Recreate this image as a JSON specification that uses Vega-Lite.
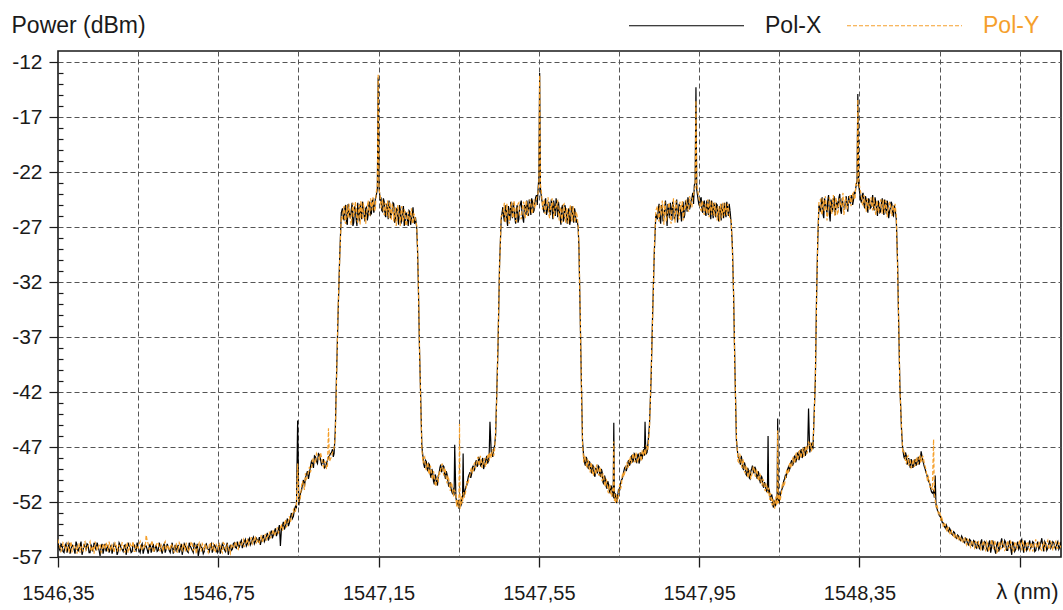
{
  "$schema": "https://vega.github.io/schema/vega-lite/v6.json",
  "width": 1003,
  "height": 506,
  "autosize": {"type": "none"},
  "padding": {"left": 58, "top": 51, "right": 2, "bottom": 53},
  "background": "white",
  "config": {
    "font": "Liberation Sans",
    "view": {"stroke": "#1a1a1a", "strokeWidth": 1.6}
  },
  "data": {
    "values": [
      {"nm":1546.350,"X":-55.7,"Y":-55.4},{"nm":1546.355,"X":-56.4,"Y":-56.1},{"nm":1546.360,"X":-55.9,"Y":-56.3},{"nm":1546.365,"X":-56.6,"Y":-55.8},
      {"nm":1546.370,"X":-55.8,"Y":-56.4},{"nm":1546.375,"X":-56.2,"Y":-55.7},{"nm":1546.380,"X":-56.7,"Y":-56.0},{"nm":1546.385,"X":-55.9,"Y":-56.5},
      {"nm":1546.390,"X":-56.3,"Y":-55.9},{"nm":1546.395,"X":-55.6,"Y":-56.2},{"nm":1546.400,"X":-56.5,"Y":-55.8},{"nm":1546.405,"X":-56.0,"Y":-56.6},
      {"nm":1546.410,"X":-56.8,"Y":-56.1},{"nm":1546.415,"X":-55.8,"Y":-55.7},{"nm":1546.420,"X":-56.3,"Y":-56.4},{"nm":1546.425,"X":-55.9,"Y":-56.0},
      {"nm":1546.430,"X":-56.6,"Y":-55.6},{"nm":1546.435,"X":-56.1,"Y":-56.3},{"nm":1546.440,"X":-55.7,"Y":-56.7},{"nm":1546.445,"X":-56.4,"Y":-55.9},
      {"nm":1546.450,"X":-56.0,"Y":-56.2},{"nm":1546.455,"X":-56.9,"Y":-55.8},{"nm":1546.460,"X":-55.8,"Y":-56.4},{"nm":1546.465,"X":-56.2,"Y":-56.0},
      {"nm":1546.470,"X":-56.5,"Y":-55.7},{"nm":1546.475,"X":-55.9,"Y":-56.5},{"nm":1546.480,"X":-56.3,"Y":-56.1},{"nm":1546.485,"X":-56.7,"Y":-55.9},
      {"nm":1546.490,"X":-55.8,"Y":-56.6},{"nm":1546.495,"X":-56.1,"Y":-55.8},{"nm":1546.500,"X":-56.5,"Y":-56.2},{"nm":1546.505,"X":-55.9,"Y":-56.4},
      {"nm":1546.510,"X":-56.3,"Y":-55.7},{"nm":1546.515,"X":-56.0,"Y":-56.3},{"nm":1546.520,"X":-56.8,"Y":-56.0},{"nm":1546.525,"X":-55.7,"Y":-56.6},
      {"nm":1546.530,"X":-56.2,"Y":-55.8},{"nm":1546.535,"X":-56.5,"Y":-56.1},{"nm":1546.540,"X":-55.9,"Y":-56.5},{"nm":1546.545,"X":-56.4,"Y":-55.9},
      {"nm":1546.550,"X":-56.1,"Y":-56.2},{"nm":1546.555,"X":-56.6,"Y":-55.6},{"nm":1546.560,"X":-55.8,"Y":-56.3},{"nm":1546.565,"X":-56.3,"Y":-56.0},
      {"nm":1546.570,"X":-56.0,"Y":-55.0},{"nm":1546.575,"X":-56.7,"Y":-55.8},{"nm":1546.580,"X":-55.8,"Y":-56.2},{"nm":1546.585,"X":-56.2,"Y":-55.5},
      {"nm":1546.590,"X":-56.5,"Y":-56.4},{"nm":1546.595,"X":-55.9,"Y":-56.0},{"nm":1546.600,"X":-56.4,"Y":-55.7},{"nm":1546.605,"X":-56.0,"Y":-56.5},
      {"nm":1546.610,"X":-56.7,"Y":-56.1},{"nm":1546.615,"X":-55.8,"Y":-55.8},{"nm":1546.620,"X":-56.3,"Y":-56.4},{"nm":1546.625,"X":-56.1,"Y":-55.9},
      {"nm":1546.630,"X":-56.6,"Y":-56.2},{"nm":1546.635,"X":-55.7,"Y":-56.0},{"nm":1546.640,"X":-56.2,"Y":-56.6},{"nm":1546.645,"X":-56.5,"Y":-55.8},
      {"nm":1546.650,"X":-55.9,"Y":-56.3},{"nm":1546.655,"X":-56.3,"Y":-55.9},{"nm":1546.660,"X":-56.8,"Y":-56.4},{"nm":1546.665,"X":-55.8,"Y":-56.0},
      {"nm":1546.670,"X":-56.2,"Y":-55.7},{"nm":1546.675,"X":-56.6,"Y":-56.5},{"nm":1546.680,"X":-56.0,"Y":-56.1},{"nm":1546.685,"X":-56.4,"Y":-55.8},
      {"nm":1546.690,"X":-55.7,"Y":-56.3},{"nm":1546.695,"X":-56.3,"Y":-56.7},{"nm":1546.700,"X":-56.9,"Y":-55.9},{"nm":1546.705,"X":-55.9,"Y":-56.2},
      {"nm":1546.710,"X":-56.2,"Y":-55.8},{"nm":1546.715,"X":-56.5,"Y":-56.4},{"nm":1546.720,"X":-55.8,"Y":-56.0},{"nm":1546.725,"X":-56.3,"Y":-56.6},
      {"nm":1546.730,"X":-56.0,"Y":-55.7},{"nm":1546.735,"X":-56.6,"Y":-56.2},{"nm":1546.740,"X":-55.9,"Y":-56.5},{"nm":1546.745,"X":-56.4,"Y":-55.9},
      {"nm":1546.750,"X":-56.1,"Y":-56.3},{"nm":1546.755,"X":-56.7,"Y":-56.0},{"nm":1546.760,"X":-55.8,"Y":-56.6},{"nm":1546.765,"X":-56.3,"Y":-55.8},
      {"nm":1546.770,"X":-56.0,"Y":-56.4},{"nm":1546.775,"X":-56.8,"Y":-56.1},{"nm":1546.780,"X":-55.9,"Y":-56.7},{"nm":1546.785,"X":-56.3,"Y":-56.0},
      {"nm":1546.790,"X":-55.7,"Y":-56.2},{"nm":1546.795,"X":-56.2,"Y":-55.8},{"nm":1546.800,"X":-56.0,"Y":-56.3},{"nm":1546.805,"X":-55.7,"Y":-55.9},
      {"nm":1546.810,"X":-56.2,"Y":-55.6},{"nm":1546.815,"X":-55.6,"Y":-56.1},{"nm":1546.820,"X":-56.0,"Y":-55.7},{"nm":1546.825,"X":-55.5,"Y":-55.9},
      {"nm":1546.830,"X":-55.9,"Y":-55.5},{"nm":1546.835,"X":-55.4,"Y":-55.8},{"nm":1546.840,"X":-55.8,"Y":-55.3},{"nm":1546.845,"X":-55.3,"Y":-55.7},
      {"nm":1546.850,"X":-55.6,"Y":-55.4},{"nm":1546.855,"X":-55.9,"Y":-55.4},{"nm":1546.860,"X":-55.3,"Y":-55.7},{"nm":1546.865,"X":-55.6,"Y":-55.2},
      {"nm":1546.870,"X":-55.1,"Y":-55.5},{"nm":1546.875,"X":-55.5,"Y":-55.0},{"nm":1546.880,"X":-54.9,"Y":-55.3},{"nm":1546.885,"X":-55.3,"Y":-54.8},
      {"nm":1546.890,"X":-54.7,"Y":-55.1},{"nm":1546.895,"X":-55.1,"Y":-54.6},{"nm":1546.900,"X":-54.5,"Y":-54.8},{"nm":1546.905,"X":-56.0,"Y":-54.4},
      {"nm":1546.910,"X":-54.2,"Y":-54.6},{"nm":1546.915,"X":-54.5,"Y":-54.0},{"nm":1546.920,"X":-53.9,"Y":-54.3},{"nm":1546.925,"X":-54.2,"Y":-53.7},
      {"nm":1546.930,"X":-53.4,"Y":-53.8},{"nm":1546.935,"X":-53.5,"Y":-53.1},{"nm":1546.940,"X":-52.7,"Y":-53.0},{"nm":1546.945,"X":-52.6,"Y":-52.2},
      {"nm":1546.948,"X":-44.6,"Y":-48.5},{"nm":1546.951,"X":-52.3,"Y":-52.0},{"nm":1546.955,"X":-51.2,"Y":-51.6},{"nm":1546.960,"X":-50.4,"Y":-50.1},
      {"nm":1546.965,"X":-50.6,"Y":-50.9},{"nm":1546.970,"X":-49.5,"Y":-49.9},{"nm":1546.975,"X":-49.9,"Y":-49.2},{"nm":1546.980,"X":-48.8,"Y":-49.3},
      {"nm":1546.985,"X":-48.5,"Y":-48.2},{"nm":1546.990,"X":-47.8,"Y":-48.4},{"nm":1546.995,"X":-48.3,"Y":-47.6},{"nm":1547.000,"X":-47.6,"Y":-47.9},
      {"nm":1547.005,"X":-48.1,"Y":-47.5},{"nm":1547.010,"X":-48.4,"Y":-48.6},{"nm":1547.015,"X":-48.9,"Y":-48.3},{"nm":1547.020,"X":-48.5,"Y":-49.0},
      {"nm":1547.025,"X":-47.9,"Y":-45.3},{"nm":1547.030,"X":-47.6,"Y":-48.1},{"nm":1547.035,"X":-47.2,"Y":-47.5},{"nm":1547.039,"X":-47.6,"Y":-47.1},
      {"nm":1547.042,"X":-45.5,"Y":-46.0},{"nm":1547.045,"X":-40.6,"Y":-41.0},{"nm":1547.049,"X":-34.8,"Y":-34.5},{"nm":1547.053,"X":-29.7,"Y":-29.9},
      {"nm":1547.057,"X":-25.7,"Y":-26.0},
      {"nm":1547.060,"X":-25.3,"Y":-26.2},{"nm":1547.064,"X":-26.4,"Y":-25.1},{"nm":1547.068,"X":-25.0,"Y":-26.7},{"nm":1547.072,"X":-26.8,"Y":-25.6},
      {"nm":1547.076,"X":-25.5,"Y":-24.9},{"nm":1547.080,"X":-26.2,"Y":-26.5},{"nm":1547.084,"X":-24.8,"Y":-25.4},{"nm":1547.088,"X":-26.6,"Y":-26.0},
      {"nm":1547.092,"X":-25.4,"Y":-24.7},{"nm":1547.096,"X":-26.9,"Y":-26.3},{"nm":1547.100,"X":-25.7,"Y":-25.2},{"nm":1547.104,"X":-24.9,"Y":-26.8},
      {"nm":1547.108,"X":-26.3,"Y":-25.5},{"nm":1547.112,"X":-25.1,"Y":-24.8},{"nm":1547.116,"X":-26.5,"Y":-26.1},{"nm":1547.120,"X":-25.2,"Y":-25.7},
      {"nm":1547.124,"X":-25.9,"Y":-24.6},{"nm":1547.128,"X":-24.7,"Y":-25.9},{"nm":1547.132,"X":-25.8,"Y":-25.0},{"nm":1547.136,"X":-24.5,"Y":-24.3},
      {"nm":1547.140,"X":-25.3,"Y":-25.6},{"nm":1547.144,"X":-24.2,"Y":-23.9},{"nm":1547.147,"X":-23.5,"Y":-23.2},{"nm":1547.149,"X":-13.4,"Y":-13.1},
      {"nm":1547.151,"X":-23.3,"Y":-23.6},{"nm":1547.154,"X":-24.6,"Y":-24.1},{"nm":1547.158,"X":-25.5,"Y":-24.9},{"nm":1547.162,"X":-24.4,"Y":-25.6},
      {"nm":1547.166,"X":-25.9,"Y":-24.8},{"nm":1547.170,"X":-24.9,"Y":-26.0},{"nm":1547.174,"X":-26.3,"Y":-25.2},{"nm":1547.178,"X":-25.1,"Y":-24.7},
      {"nm":1547.182,"X":-25.8,"Y":-26.4},{"nm":1547.186,"X":-24.8,"Y":-25.3},{"nm":1547.190,"X":-26.6,"Y":-25.8},{"nm":1547.194,"X":-25.4,"Y":-26.9},
      {"nm":1547.198,"X":-26.1,"Y":-25.0},{"nm":1547.202,"X":-25.0,"Y":-26.2},{"nm":1547.206,"X":-26.7,"Y":-25.6},{"nm":1547.210,"X":-25.6,"Y":-26.5},
      {"nm":1547.214,"X":-26.9,"Y":-25.4},{"nm":1547.218,"X":-25.7,"Y":-26.8},{"nm":1547.222,"X":-26.4,"Y":-25.9},{"nm":1547.226,"X":-25.5,"Y":-26.3},
      {"nm":1547.230,"X":-26.8,"Y":-25.7},{"nm":1547.234,"X":-25.9,"Y":-26.6},{"nm":1547.238,"X":-26.5,"Y":-25.8},{"nm":1547.242,"X":-26.1,"Y":-26.4},
      {"nm":1547.245,"X":-27.0,"Y":-26.8},{"nm":1547.247,"X":-28.8,"Y":-28.5},{"nm":1547.249,"X":-31.8,"Y":-31.5},{"nm":1547.252,"X":-37.9,"Y":-37.6},
      {"nm":1547.255,"X":-42.4,"Y":-42.7},{"nm":1547.258,"X":-46.9,"Y":-47.2},
      {"nm":1547.261,"X":-48.0,"Y":-48.5},{"nm":1547.265,"X":-48.9,"Y":-47.9},{"nm":1547.269,"X":-48.3,"Y":-49.1},{"nm":1547.273,"X":-49.2,"Y":-48.4},
      {"nm":1547.277,"X":-48.6,"Y":-49.5},{"nm":1547.281,"X":-49.8,"Y":-48.9},{"nm":1547.285,"X":-49.3,"Y":-50.0},{"nm":1547.289,"X":-50.4,"Y":-49.5},
      {"nm":1547.293,"X":-49.7,"Y":-50.6},{"nm":1547.297,"X":-50.5,"Y":-49.8},{"nm":1547.301,"X":-49.4,"Y":-49.2},{"nm":1547.305,"X":-48.6,"Y":-49.0},
      {"nm":1547.309,"X":-49.1,"Y":-48.5},{"nm":1547.313,"X":-48.8,"Y":-49.6},{"nm":1547.317,"X":-49.9,"Y":-49.2},{"nm":1547.321,"X":-49.5,"Y":-50.3},
      {"nm":1547.325,"X":-50.6,"Y":-49.9},{"nm":1547.329,"X":-50.2,"Y":-51.0},{"nm":1547.333,"X":-51.1,"Y":-50.4},{"nm":1547.337,"X":-50.7,"Y":-51.5},
      {"nm":1547.340,"X":-46.8,"Y":-51.0},{"nm":1547.343,"X":-51.6,"Y":-51.2},{"nm":1547.346,"X":-52.3,"Y":-51.8},{"nm":1547.349,"X":-51.8,"Y":-52.5},
      {"nm":1547.352,"X":-52.0,"Y":-44.9},{"nm":1547.355,"X":-52.4,"Y":-51.7},{"nm":1547.358,"X":-51.5,"Y":-52.2},{"nm":1547.361,"X":-47.6,"Y":-51.3},
      {"nm":1547.364,"X":-51.2,"Y":-51.6},{"nm":1547.368,"X":-50.6,"Y":-50.9},{"nm":1547.372,"X":-50.1,"Y":-50.4},{"nm":1547.376,"X":-49.5,"Y":-49.8},
      {"nm":1547.380,"X":-49.8,"Y":-49.1},{"nm":1547.384,"X":-48.9,"Y":-49.4},{"nm":1547.388,"X":-49.2,"Y":-48.6},{"nm":1547.392,"X":-48.4,"Y":-48.9},
      {"nm":1547.396,"X":-48.8,"Y":-48.1},{"nm":1547.400,"X":-47.9,"Y":-48.5},{"nm":1547.404,"X":-48.6,"Y":-47.8},{"nm":1547.408,"X":-48.2,"Y":-48.9},
      {"nm":1547.412,"X":-49.0,"Y":-48.3},{"nm":1547.416,"X":-48.4,"Y":-48.7},{"nm":1547.420,"X":-47.8,"Y":-48.2},{"nm":1547.424,"X":-48.3,"Y":-47.6},
      {"nm":1547.428,"X":-44.7,"Y":-47.5},{"nm":1547.431,"X":-47.4,"Y":-48.0},{"nm":1547.435,"X":-47.9,"Y":-47.2},{"nm":1547.439,"X":-47.0,"Y":-47.5},
      {"nm":1547.442,"X":-46.0,"Y":-45.6},{"nm":1547.445,"X":-42.0,"Y":-42.5},{"nm":1547.448,"X":-37.9,"Y":-37.5},{"nm":1547.452,"X":-30.3,"Y":-30.6},
      {"nm":1547.456,"X":-26.3,"Y":-26.0},
      {"nm":1547.460,"X":-25.2,"Y":-25.9},{"nm":1547.464,"X":-26.5,"Y":-24.8},{"nm":1547.468,"X":-25.0,"Y":-26.3},{"nm":1547.472,"X":-26.9,"Y":-25.4},
      {"nm":1547.476,"X":-25.6,"Y":-26.7},{"nm":1547.480,"X":-24.7,"Y":-25.1},{"nm":1547.484,"X":-26.2,"Y":-26.0},{"nm":1547.488,"X":-25.3,"Y":-24.6},
      {"nm":1547.492,"X":-26.7,"Y":-26.4},{"nm":1547.496,"X":-25.0,"Y":-25.3},{"nm":1547.500,"X":-26.3,"Y":-24.8},{"nm":1547.504,"X":-24.9,"Y":-26.1},
      {"nm":1547.508,"X":-25.8,"Y":-25.5},{"nm":1547.512,"X":-26.6,"Y":-24.7},{"nm":1547.516,"X":-25.2,"Y":-26.2},{"nm":1547.520,"X":-24.6,"Y":-25.0},
      {"nm":1547.524,"X":-26.0,"Y":-25.7},{"nm":1547.528,"X":-25.1,"Y":-24.5},{"nm":1547.532,"X":-24.4,"Y":-25.6},{"nm":1547.536,"X":-25.7,"Y":-24.9},
      {"nm":1547.540,"X":-24.8,"Y":-25.3},{"nm":1547.544,"X":-24.1,"Y":-24.4},{"nm":1547.548,"X":-23.6,"Y":-23.9},{"nm":1547.550,"X":-22.5,"Y":-23.0},
      {"nm":1547.552,"X":-13.0,"Y":-13.2},{"nm":1547.554,"X":-23.5,"Y":-23.2},{"nm":1547.557,"X":-24.5,"Y":-24.0},{"nm":1547.561,"X":-25.4,"Y":-24.7},
      {"nm":1547.565,"X":-24.6,"Y":-25.8},{"nm":1547.569,"X":-25.9,"Y":-25.1},{"nm":1547.573,"X":-24.9,"Y":-24.3},{"nm":1547.577,"X":-25.6,"Y":-26.2},
      {"nm":1547.581,"X":-24.5,"Y":-25.4},{"nm":1547.585,"X":-26.3,"Y":-24.8},{"nm":1547.589,"X":-25.2,"Y":-26.0},{"nm":1547.593,"X":-24.4,"Y":-25.3},
      {"nm":1547.597,"X":-26.1,"Y":-24.6},{"nm":1547.601,"X":-25.5,"Y":-26.4},{"nm":1547.605,"X":-26.8,"Y":-25.2},{"nm":1547.609,"X":-25.0,"Y":-25.9},
      {"nm":1547.613,"X":-26.2,"Y":-24.9},{"nm":1547.617,"X":-25.4,"Y":-26.6},{"nm":1547.621,"X":-26.7,"Y":-25.5},{"nm":1547.625,"X":-25.3,"Y":-26.1},
      {"nm":1547.629,"X":-26.4,"Y":-25.0},{"nm":1547.633,"X":-25.1,"Y":-26.5},{"nm":1547.637,"X":-26.6,"Y":-25.6},{"nm":1547.641,"X":-25.7,"Y":-26.2},
      {"nm":1547.645,"X":-26.3,"Y":-25.9},
      {"nm":1547.648,"X":-27.0,"Y":-26.8},{"nm":1547.650,"X":-28.8,"Y":-28.6},{"nm":1547.653,"X":-34.8,"Y":-34.5},{"nm":1547.656,"X":-40.9,"Y":-41.2},
      {"nm":1547.659,"X":-46.5,"Y":-46.8},
      {"nm":1547.662,"X":-47.9,"Y":-48.4},{"nm":1547.666,"X":-48.7,"Y":-47.8},{"nm":1547.670,"X":-48.1,"Y":-48.9},{"nm":1547.674,"X":-49.0,"Y":-48.3},
      {"nm":1547.678,"X":-48.5,"Y":-49.3},{"nm":1547.682,"X":-49.4,"Y":-48.7},{"nm":1547.686,"X":-48.8,"Y":-49.6},{"nm":1547.690,"X":-49.7,"Y":-49.0},
      {"nm":1547.694,"X":-49.1,"Y":-48.6},{"nm":1547.698,"X":-48.7,"Y":-49.4},{"nm":1547.702,"X":-49.5,"Y":-48.8},{"nm":1547.706,"X":-49.0,"Y":-49.8},
      {"nm":1547.710,"X":-50.2,"Y":-49.4},{"nm":1547.714,"X":-49.6,"Y":-50.4},{"nm":1547.718,"X":-50.6,"Y":-49.9},{"nm":1547.722,"X":-50.1,"Y":-51.0},
      {"nm":1547.726,"X":-51.0,"Y":-50.4},{"nm":1547.730,"X":-50.5,"Y":-51.3},{"nm":1547.734,"X":-51.4,"Y":-50.8},{"nm":1547.737,"X":-44.8,"Y":-46.5},
      {"nm":1547.740,"X":-51.2,"Y":-51.6},{"nm":1547.743,"X":-51.9,"Y":-51.3},{"nm":1547.746,"X":-51.5,"Y":-52.0},{"nm":1547.749,"X":-50.8,"Y":-51.2},
      {"nm":1547.752,"X":-50.9,"Y":-50.4},{"nm":1547.756,"X":-50.0,"Y":-50.5},{"nm":1547.760,"X":-49.6,"Y":-49.3},{"nm":1547.764,"X":-48.9,"Y":-49.4},
      {"nm":1547.768,"X":-49.2,"Y":-48.6},{"nm":1547.772,"X":-48.4,"Y":-48.9},{"nm":1547.776,"X":-48.7,"Y":-48.1},{"nm":1547.780,"X":-47.9,"Y":-48.5},
      {"nm":1547.784,"X":-48.4,"Y":-47.7},{"nm":1547.788,"X":-47.6,"Y":-48.2},{"nm":1547.792,"X":-48.3,"Y":-47.5},{"nm":1547.796,"X":-47.8,"Y":-48.4},
      {"nm":1547.800,"X":-48.5,"Y":-47.9},{"nm":1547.804,"X":-47.5,"Y":-48.0},{"nm":1547.808,"X":-48.1,"Y":-47.3},{"nm":1547.812,"X":-47.2,"Y":-47.8},
      {"nm":1547.815,"X":-44.7,"Y":-47.4},{"nm":1547.818,"X":-47.6,"Y":-46.9},{"nm":1547.822,"X":-46.8,"Y":-47.3},
      {"nm":1547.826,"X":-45.0,"Y":-45.4},{"nm":1547.830,"X":-40.9,"Y":-40.6},{"nm":1547.834,"X":-34.8,"Y":-35.1},{"nm":1547.838,"X":-29.4,"Y":-29.1},
      {"nm":1547.842,"X":-25.8,"Y":-25.5},
      {"nm":1547.846,"X":-26.3,"Y":-25.1},{"nm":1547.850,"X":-24.9,"Y":-26.5},{"nm":1547.854,"X":-26.7,"Y":-25.4},{"nm":1547.858,"X":-25.3,"Y":-24.6},
      {"nm":1547.862,"X":-26.1,"Y":-26.8},{"nm":1547.866,"X":-24.6,"Y":-25.2},{"nm":1547.870,"X":-26.9,"Y":-26.0},{"nm":1547.874,"X":-25.5,"Y":-24.8},
      {"nm":1547.878,"X":-24.8,"Y":-26.3},{"nm":1547.882,"X":-26.4,"Y":-25.5},{"nm":1547.886,"X":-25.1,"Y":-24.4},{"nm":1547.890,"X":-26.0,"Y":-26.6},
      {"nm":1547.894,"X":-24.5,"Y":-25.0},{"nm":1547.898,"X":-25.8,"Y":-26.1},{"nm":1547.902,"X":-25.2,"Y":-24.7},{"nm":1547.906,"X":-26.5,"Y":-25.6},
      {"nm":1547.910,"X":-24.7,"Y":-26.4},{"nm":1547.914,"X":-25.9,"Y":-25.1},{"nm":1547.918,"X":-25.0,"Y":-24.5},{"nm":1547.922,"X":-24.3,"Y":-25.4},
      {"nm":1547.926,"X":-25.4,"Y":-24.2},{"nm":1547.930,"X":-24.6,"Y":-25.0},{"nm":1547.934,"X":-23.9,"Y":-24.3},{"nm":1547.938,"X":-23.2,"Y":-23.6},
      {"nm":1547.940,"X":-23.0,"Y":-23.4},{"nm":1547.942,"X":-14.3,"Y":-15.5},{"nm":1547.944,"X":-23.6,"Y":-23.1},{"nm":1547.947,"X":-24.4,"Y":-23.8},
      {"nm":1547.951,"X":-25.1,"Y":-24.6},{"nm":1547.955,"X":-24.3,"Y":-25.5},{"nm":1547.959,"X":-25.7,"Y":-24.8},{"nm":1547.963,"X":-24.6,"Y":-25.9},
      {"nm":1547.967,"X":-26.0,"Y":-25.2},{"nm":1547.971,"X":-25.2,"Y":-24.5},{"nm":1547.975,"X":-24.5,"Y":-26.1},{"nm":1547.979,"X":-26.3,"Y":-25.3},
      {"nm":1547.983,"X":-25.4,"Y":-24.7},{"nm":1547.987,"X":-24.8,"Y":-26.0},{"nm":1547.991,"X":-26.1,"Y":-25.0},{"nm":1547.995,"X":-25.0,"Y":-26.4},
      {"nm":1547.999,"X":-26.5,"Y":-25.4},{"nm":1548.003,"X":-25.3,"Y":-24.9},{"nm":1548.007,"X":-24.9,"Y":-26.2},{"nm":1548.011,"X":-26.2,"Y":-25.6},
      {"nm":1548.015,"X":-25.6,"Y":-24.8},{"nm":1548.019,"X":-24.7,"Y":-25.9},{"nm":1548.023,"X":-26.0,"Y":-25.3},{"nm":1548.027,"X":-25.5,"Y":-26.3},
      {"nm":1548.030,"X":-26.7,"Y":-26.4},{"nm":1548.033,"X":-28.8,"Y":-29.2},{"nm":1548.036,"X":-33.3,"Y":-33.0},{"nm":1548.039,"X":-39.4,"Y":-39.8},
      {"nm":1548.043,"X":-46.4,"Y":-46.0},{"nm":1548.047,"X":-47.9,"Y":-48.3},
      {"nm":1548.051,"X":-48.2,"Y":-47.6},{"nm":1548.055,"X":-47.8,"Y":-48.5},{"nm":1548.059,"X":-48.9,"Y":-48.1},{"nm":1548.063,"X":-48.4,"Y":-49.2},
      {"nm":1548.067,"X":-49.5,"Y":-48.7},{"nm":1548.071,"X":-48.9,"Y":-49.6},{"nm":1548.075,"X":-49.8,"Y":-49.1},{"nm":1548.079,"X":-49.2,"Y":-49.9},
      {"nm":1548.083,"X":-48.7,"Y":-49.3},{"nm":1548.087,"X":-49.4,"Y":-48.8},{"nm":1548.091,"X":-49.0,"Y":-49.7},{"nm":1548.095,"X":-49.9,"Y":-49.3},
      {"nm":1548.099,"X":-49.4,"Y":-50.1},{"nm":1548.103,"X":-50.3,"Y":-49.6},{"nm":1548.107,"X":-49.8,"Y":-50.5},{"nm":1548.111,"X":-50.7,"Y":-50.1},
      {"nm":1548.115,"X":-50.4,"Y":-51.0},{"nm":1548.119,"X":-51.1,"Y":-50.6},{"nm":1548.122,"X":-46.0,"Y":-50.9},{"nm":1548.125,"X":-50.8,"Y":-51.5},
      {"nm":1548.128,"X":-51.7,"Y":-51.2},{"nm":1548.131,"X":-51.3,"Y":-52.0},{"nm":1548.134,"X":-52.3,"Y":-51.7},{"nm":1548.137,"X":-51.9,"Y":-52.4},
      {"nm":1548.140,"X":-52.4,"Y":-51.8},{"nm":1548.143,"X":-51.6,"Y":-52.2},{"nm":1548.146,"X":-44.4,"Y":-45.5},{"nm":1548.149,"X":-52.1,"Y":-51.6},
      {"nm":1548.152,"X":-51.5,"Y":-51.9},{"nm":1548.155,"X":-51.0,"Y":-51.4},{"nm":1548.159,"X":-50.6,"Y":-50.2},{"nm":1548.163,"X":-49.9,"Y":-50.4},
      {"nm":1548.167,"X":-49.8,"Y":-49.4},{"nm":1548.171,"X":-49.0,"Y":-49.5},{"nm":1548.175,"X":-49.1,"Y":-48.6},{"nm":1548.179,"X":-48.4,"Y":-48.9},
      {"nm":1548.183,"X":-48.7,"Y":-48.1},{"nm":1548.187,"X":-47.9,"Y":-48.5},{"nm":1548.191,"X":-48.4,"Y":-47.7},{"nm":1548.195,"X":-47.6,"Y":-48.2},
      {"nm":1548.199,"X":-48.2,"Y":-47.5},{"nm":1548.203,"X":-47.4,"Y":-48.0},{"nm":1548.207,"X":-48.0,"Y":-47.3},{"nm":1548.211,"X":-47.3,"Y":-47.9},
      {"nm":1548.215,"X":-47.8,"Y":-47.1},{"nm":1548.219,"X":-47.1,"Y":-47.6},{"nm":1548.223,"X":-43.5,"Y":-46.5},{"nm":1548.226,"X":-47.5,"Y":-46.9},
      {"nm":1548.230,"X":-46.8,"Y":-47.4},{"nm":1548.234,"X":-47.2,"Y":-46.7},
      {"nm":1548.237,"X":-44.0,"Y":-44.4},{"nm":1548.240,"X":-40.9,"Y":-40.5},{"nm":1548.243,"X":-33.3,"Y":-33.7},{"nm":1548.246,"X":-28.2,"Y":-28.0},
      {"nm":1548.249,"X":-25.0,"Y":-24.7},
      {"nm":1548.253,"X":-25.6,"Y":-24.5},{"nm":1548.257,"X":-24.3,"Y":-25.9},{"nm":1548.261,"X":-26.2,"Y":-25.0},{"nm":1548.265,"X":-24.8,"Y":-24.2},
      {"nm":1548.269,"X":-25.7,"Y":-26.4},{"nm":1548.273,"X":-24.1,"Y":-25.3},{"nm":1548.277,"X":-26.5,"Y":-24.6},{"nm":1548.281,"X":-25.0,"Y":-25.8},
      {"nm":1548.285,"X":-24.4,"Y":-24.1},{"nm":1548.289,"X":-25.9,"Y":-26.0},{"nm":1548.293,"X":-24.6,"Y":-24.8},{"nm":1548.297,"X":-25.3,"Y":-25.6},
      {"nm":1548.301,"X":-24.0,"Y":-24.4},{"nm":1548.305,"X":-25.8,"Y":-25.2},{"nm":1548.309,"X":-24.9,"Y":-23.9},{"nm":1548.313,"X":-25.4,"Y":-25.5},
      {"nm":1548.317,"X":-24.2,"Y":-24.6},{"nm":1548.321,"X":-25.6,"Y":-25.0},{"nm":1548.325,"X":-24.7,"Y":-24.3},{"nm":1548.329,"X":-24.3,"Y":-25.1},
      {"nm":1548.333,"X":-25.0,"Y":-24.0},{"nm":1548.337,"X":-23.8,"Y":-24.5},{"nm":1548.341,"X":-23.4,"Y":-23.1},{"nm":1548.344,"X":-22.8,"Y":-23.2},
      {"nm":1548.346,"X":-14.9,"Y":-15.4},{"nm":1548.348,"X":-23.1,"Y":-22.7},{"nm":1548.351,"X":-24.0,"Y":-23.5},{"nm":1548.355,"X":-24.8,"Y":-24.2},
      {"nm":1548.359,"X":-23.9,"Y":-25.0},{"nm":1548.363,"X":-25.3,"Y":-24.4},{"nm":1548.367,"X":-24.5,"Y":-25.6},{"nm":1548.371,"X":-25.7,"Y":-24.7},
      {"nm":1548.375,"X":-24.6,"Y":-25.2},{"nm":1548.379,"X":-25.2,"Y":-24.3},{"nm":1548.383,"X":-24.1,"Y":-25.5},{"nm":1548.387,"X":-25.5,"Y":-24.8},
      {"nm":1548.391,"X":-24.8,"Y":-25.9},{"nm":1548.395,"X":-26.0,"Y":-24.9},{"nm":1548.399,"X":-24.9,"Y":-25.4},{"nm":1548.403,"X":-25.6,"Y":-24.5},
      {"nm":1548.407,"X":-24.4,"Y":-25.8},{"nm":1548.411,"X":-25.9,"Y":-25.1},{"nm":1548.415,"X":-25.1,"Y":-24.6},{"nm":1548.419,"X":-24.6,"Y":-26.1},
      {"nm":1548.423,"X":-26.2,"Y":-25.3},{"nm":1548.427,"X":-25.3,"Y":-24.9},{"nm":1548.431,"X":-24.9,"Y":-26.0},{"nm":1548.435,"X":-26.0,"Y":-25.5},
      {"nm":1548.439,"X":-25.4,"Y":-24.9},
      {"nm":1548.442,"X":-26.3,"Y":-26.0},{"nm":1548.445,"X":-30.0,"Y":-30.4},{"nm":1548.448,"X":-36.0,"Y":-35.6},{"nm":1548.451,"X":-41.5,"Y":-41.8},
      {"nm":1548.455,"X":-45.4,"Y":-45.1},{"nm":1548.458,"X":-47.2,"Y":-47.5},
      {"nm":1548.461,"X":-47.9,"Y":-47.4},{"nm":1548.465,"X":-47.5,"Y":-48.3},{"nm":1548.469,"X":-48.6,"Y":-47.9},{"nm":1548.473,"X":-48.0,"Y":-48.7},
      {"nm":1548.477,"X":-48.9,"Y":-48.2},{"nm":1548.481,"X":-48.3,"Y":-48.8},{"nm":1548.485,"X":-48.7,"Y":-48.1},{"nm":1548.489,"X":-48.1,"Y":-48.6},
      {"nm":1548.493,"X":-48.5,"Y":-47.9},{"nm":1548.497,"X":-47.9,"Y":-48.4},{"nm":1548.501,"X":-48.3,"Y":-47.7},{"nm":1548.504,"X":-47.4,"Y":-48.0},
      {"nm":1548.508,"X":-48.2,"Y":-47.8},{"nm":1548.512,"X":-48.8,"Y":-48.5},{"nm":1548.516,"X":-49.3,"Y":-49.0},{"nm":1548.520,"X":-49.8,"Y":-50.1},
      {"nm":1548.524,"X":-50.2,"Y":-49.9},{"nm":1548.528,"X":-50.8,"Y":-50.5},{"nm":1548.532,"X":-51.2,"Y":-50.9},{"nm":1548.535,"X":-51.0,"Y":-46.3},
      {"nm":1548.539,"X":-49.6,"Y":-51.8},{"nm":1548.543,"X":-52.5,"Y":-52.2},{"nm":1548.547,"X":-52.9,"Y":-53.1},{"nm":1548.551,"X":-53.3,"Y":-53.0},
      {"nm":1548.555,"X":-53.6,"Y":-53.4},{"nm":1548.559,"X":-53.9,"Y":-54.2},{"nm":1548.563,"X":-54.3,"Y":-54.0},{"nm":1548.567,"X":-54.1,"Y":-54.5},
      {"nm":1548.571,"X":-54.6,"Y":-54.3},{"nm":1548.575,"X":-54.4,"Y":-54.8},{"nm":1548.580,"X":-54.9,"Y":-54.6},{"nm":1548.585,"X":-54.7,"Y":-55.1},
      {"nm":1548.590,"X":-55.2,"Y":-54.9},{"nm":1548.595,"X":-55.0,"Y":-55.4},{"nm":1548.600,"X":-55.4,"Y":-55.1},{"nm":1548.605,"X":-55.1,"Y":-55.6},
      {"nm":1548.610,"X":-55.6,"Y":-55.3},{"nm":1548.615,"X":-55.3,"Y":-55.7},{"nm":1548.620,"X":-55.8,"Y":-55.4},{"nm":1548.625,"X":-55.4,"Y":-55.9},
      {"nm":1548.630,"X":-55.9,"Y":-55.5},{"nm":1548.635,"X":-55.5,"Y":-56.0},{"nm":1548.640,"X":-56.1,"Y":-55.6},
      {"nm":1548.645,"X":-55.6,"Y":-56.2},{"nm":1548.650,"X":-56.3,"Y":-55.7},{"nm":1548.655,"X":-55.4,"Y":-56.0},{"nm":1548.660,"X":-56.0,"Y":-55.5},
      {"nm":1548.665,"X":-55.7,"Y":-56.4},{"nm":1548.670,"X":-56.5,"Y":-55.8},{"nm":1548.675,"X":-55.5,"Y":-56.1},{"nm":1548.680,"X":-56.1,"Y":-55.4},
      {"nm":1548.685,"X":-55.8,"Y":-56.3},{"nm":1548.690,"X":-56.7,"Y":-55.9},{"nm":1548.695,"X":-55.6,"Y":-56.5},{"nm":1548.700,"X":-56.2,"Y":-55.6},
      {"nm":1548.705,"X":-55.3,"Y":-56.0},{"nm":1548.710,"X":-56.0,"Y":-55.7},{"nm":1548.715,"X":-55.7,"Y":-56.3},{"nm":1548.720,"X":-56.4,"Y":-55.5},
      {"nm":1548.725,"X":-55.5,"Y":-56.1},{"nm":1548.730,"X":-56.8,"Y":-55.8},{"nm":1548.735,"X":-55.9,"Y":-56.4},{"nm":1548.740,"X":-56.3,"Y":-55.6},
      {"nm":1548.745,"X":-55.6,"Y":-56.0},{"nm":1548.750,"X":-56.1,"Y":-55.5},{"nm":1548.755,"X":-55.4,"Y":-56.3},{"nm":1548.760,"X":-56.6,"Y":-55.9},
      {"nm":1548.765,"X":-55.8,"Y":-56.2},{"nm":1548.770,"X":-56.2,"Y":-55.6},{"nm":1548.775,"X":-55.5,"Y":-56.4},{"nm":1548.780,"X":-56.0,"Y":-55.7},
      {"nm":1548.785,"X":-55.7,"Y":-56.1},{"nm":1548.790,"X":-56.4,"Y":-55.4},{"nm":1548.795,"X":-55.6,"Y":-56.2},{"nm":1548.800,"X":-56.1,"Y":-55.8},
      {"nm":1548.805,"X":-55.3,"Y":-56.4},{"nm":1548.810,"X":-56.5,"Y":-55.6},{"nm":1548.815,"X":-55.8,"Y":-56.0},{"nm":1548.820,"X":-56.2,"Y":-55.5},
      {"nm":1548.825,"X":-55.5,"Y":-56.3},{"nm":1548.830,"X":-56.0,"Y":-55.7},{"nm":1548.835,"X":-55.7,"Y":-56.1},{"nm":1548.840,"X":-56.3,"Y":-55.6},
      {"nm":1548.845,"X":-55.6,"Y":-56.2},{"nm":1548.850,"X":-56.1,"Y":-55.8},{"nm":1548.855,"X":-55.8,"Y":-56.0},

      {"nm":1546.3525,"X":-56.2,"Y":-55.9},{"nm":1546.3575,"X":-55.8,"Y":-56.5},{"nm":1546.3625,"X":-56.5,"Y":-55.7},{"nm":1546.3675,"X":-56.0,"Y":-56.2},
      {"nm":1546.3725,"X":-56.6,"Y":-55.9},{"nm":1546.3775,"X":-55.7,"Y":-56.6},{"nm":1546.3825,"X":-56.3,"Y":-55.6},{"nm":1546.3875,"X":-56.0,"Y":-56.3},
      {"nm":1546.3925,"X":-56.7,"Y":-56.0},{"nm":1546.3975,"X":-55.9,"Y":-56.7},{"nm":1546.4025,"X":-56.2,"Y":-55.8},{"nm":1546.4075,"X":-55.6,"Y":-56.1},
      {"nm":1546.4125,"X":-56.4,"Y":-56.5},{"nm":1546.4175,"X":-56.1,"Y":-55.6},{"nm":1546.4225,"X":-55.8,"Y":-56.2},{"nm":1546.4275,"X":-56.6,"Y":-55.8},
      {"nm":1546.4325,"X":-55.9,"Y":-56.5},{"nm":1546.4375,"X":-56.5,"Y":-56.0},{"nm":1546.4425,"X":-56.0,"Y":-55.6},{"nm":1546.4475,"X":-55.7,"Y":-56.4},
      {"nm":1546.4525,"X":-56.4,"Y":-55.9},{"nm":1546.4575,"X":-56.1,"Y":-56.6},{"nm":1546.4625,"X":-56.7,"Y":-55.8},{"nm":1546.4675,"X":-55.8,"Y":-56.3},
      {"nm":1546.4725,"X":-56.2,"Y":-56.0},{"nm":1546.4775,"X":-56.6,"Y":-55.6},{"nm":1546.4825,"X":-55.9,"Y":-56.4},{"nm":1546.4875,"X":-56.3,"Y":-56.1},
      {"nm":1546.4925,"X":-56.0,"Y":-55.7},{"nm":1546.4975,"X":-56.8,"Y":-56.5},{"nm":1546.5025,"X":-55.7,"Y":-55.9},{"nm":1546.5075,"X":-56.2,"Y":-56.2},
      {"nm":1546.5125,"X":-56.5,"Y":-55.8},{"nm":1546.5175,"X":-55.9,"Y":-56.6},{"nm":1546.5225,"X":-56.3,"Y":-55.7},{"nm":1546.5275,"X":-56.0,"Y":-56.3},
      {"nm":1546.5325,"X":-56.6,"Y":-56.0},{"nm":1546.5375,"X":-55.8,"Y":-55.6},{"nm":1546.5425,"X":-56.2,"Y":-56.5},{"nm":1546.5475,"X":-55.7,"Y":-56.1},
      {"nm":1546.5525,"X":-56.4,"Y":-55.8},{"nm":1546.5575,"X":-56.0,"Y":-56.4},{"nm":1546.5625,"X":-56.7,"Y":-55.9},{"nm":1546.5675,"X":-55.9,"Y":-56.2},
      {"nm":1546.5725,"X":-56.3,"Y":-55.5},{"nm":1546.5775,"X":-56.1,"Y":-56.3},{"nm":1546.5825,"X":-56.6,"Y":-55.8},{"nm":1546.5875,"X":-55.8,"Y":-56.6},
      {"nm":1546.5925,"X":-56.2,"Y":-56.0},{"nm":1546.5975,"X":-56.5,"Y":-55.7},{"nm":1546.6025,"X":-55.7,"Y":-56.2},{"nm":1546.6075,"X":-56.3,"Y":-55.9},
      {"nm":1546.6125,"X":-56.0,"Y":-56.5},{"nm":1546.6175,"X":-56.6,"Y":-55.6},{"nm":1546.6225,"X":-55.8,"Y":-56.1},{"nm":1546.6275,"X":-56.4,"Y":-56.4},
      {"nm":1546.6325,"X":-56.1,"Y":-55.8},{"nm":1546.6375,"X":-56.7,"Y":-56.3},{"nm":1546.6425,"X":-55.9,"Y":-55.9},{"nm":1546.6475,"X":-56.2,"Y":-56.6},
      {"nm":1546.6525,"X":-56.6,"Y":-55.7},{"nm":1546.6575,"X":-55.8,"Y":-56.2},{"nm":1546.6625,"X":-56.3,"Y":-55.8},{"nm":1546.6675,"X":-56.0,"Y":-56.5},
      {"nm":1546.6725,"X":-56.5,"Y":-56.0},{"nm":1546.6775,"X":-55.7,"Y":-56.3},{"nm":1546.6825,"X":-56.2,"Y":-55.6},{"nm":1546.6875,"X":-56.6,"Y":-56.4},
      {"nm":1546.6925,"X":-56.0,"Y":-55.9},{"nm":1546.6975,"X":-55.8,"Y":-56.2},{"nm":1546.7025,"X":-56.4,"Y":-55.7},{"nm":1546.7075,"X":-56.1,"Y":-56.5},
      {"nm":1546.7125,"X":-56.7,"Y":-56.0},{"nm":1546.7175,"X":-55.9,"Y":-55.8},{"nm":1546.7225,"X":-56.2,"Y":-56.4},{"nm":1546.7275,"X":-56.5,"Y":-55.9},
      {"nm":1546.7325,"X":-55.8,"Y":-56.3},{"nm":1546.7375,"X":-56.3,"Y":-55.7},{"nm":1546.7425,"X":-56.0,"Y":-56.6},{"nm":1546.7475,"X":-56.6,"Y":-56.1},
      {"nm":1546.7525,"X":-55.9,"Y":-55.8},{"nm":1546.7575,"X":-56.3,"Y":-56.4},{"nm":1546.7625,"X":-56.0,"Y":-55.7},{"nm":1546.7675,"X":-56.5,"Y":-56.2},
      {"nm":1546.7725,"X":-55.7,"Y":-55.9},{"nm":1546.7775,"X":-56.2,"Y":-56.5},{"nm":1546.7825,"X":-56.4,"Y":-55.8},{"nm":1546.7875,"X":-55.8,"Y":-56.1},
      {"nm":1546.7925,"X":-56.1,"Y":-55.6},{"nm":1546.7975,"X":-55.6,"Y":-56.2},{"nm":1546.8025,"X":-56.1,"Y":-55.7},{"nm":1546.8075,"X":-55.5,"Y":-56.0},
      {"nm":1546.8125,"X":-55.9,"Y":-55.4},{"nm":1546.8175,"X":-55.4,"Y":-55.8},{"nm":1546.8225,"X":-55.8,"Y":-55.3},{"nm":1546.8275,"X":-55.3,"Y":-55.7},
      {"nm":1546.8325,"X":-55.7,"Y":-55.2},{"nm":1546.8375,"X":-55.2,"Y":-55.6},{"nm":1546.8425,"X":-55.6,"Y":-55.1},
      {"nm":1546.8525,"X":-55.2,"Y":-55.7},{"nm":1546.8575,"X":-55.5,"Y":-55.0},{"nm":1546.8625,"X":-55.0,"Y":-55.4},{"nm":1546.8675,"X":-55.4,"Y":-54.9},
      {"nm":1546.8725,"X":-54.8,"Y":-55.2},{"nm":1546.8775,"X":-55.2,"Y":-54.7},{"nm":1546.8825,"X":-54.6,"Y":-55.0},{"nm":1546.8875,"X":-55.0,"Y":-54.5},
      {"nm":1546.8925,"X":-54.4,"Y":-54.9},{"nm":1546.8975,"X":-54.8,"Y":-54.3},{"nm":1546.9025,"X":-54.1,"Y":-54.6},{"nm":1546.9075,"X":-54.5,"Y":-54.0},
      {"nm":1546.9125,"X":-53.8,"Y":-54.3},{"nm":1546.9175,"X":-54.2,"Y":-53.6},{"nm":1546.9225,"X":-53.5,"Y":-54.0},{"nm":1546.9275,"X":-53.9,"Y":-53.3},
      {"nm":1546.9325,"X":-53.0,"Y":-53.5},{"nm":1546.9375,"X":-53.3,"Y":-52.7},{"nm":1546.9425,"X":-52.4,"Y":-52.9},
      {"nm":1546.9575,"X":-51.0,"Y":-50.6},{"nm":1546.9625,"X":-50.0,"Y":-50.5},{"nm":1546.9675,"X":-49.8,"Y":-49.4},{"nm":1546.9725,"X":-49.2,"Y":-49.7},
      {"nm":1546.9775,"X":-49.4,"Y":-48.8},{"nm":1546.9825,"X":-48.3,"Y":-48.9},{"nm":1546.9875,"X":-48.9,"Y":-48.0},{"nm":1546.9925,"X":-47.9,"Y":-48.5},
      {"nm":1546.9975,"X":-48.5,"Y":-47.8},{"nm":1547.0025,"X":-47.7,"Y":-48.2},{"nm":1547.0075,"X":-48.6,"Y":-47.9},{"nm":1547.0125,"X":-48.1,"Y":-48.8},
      {"nm":1547.0175,"X":-48.8,"Y":-48.4},{"nm":1547.0225,"X":-48.2,"Y":-48.7},{"nm":1547.0275,"X":-47.8,"Y":-48.3},{"nm":1547.0325,"X":-47.5,"Y":-47.9},
      {"nm":1547.0370,"X":-47.9,"Y":-47.3},
      {"nm":1547.062,"X":-26.1,"Y":-25.4},{"nm":1547.066,"X":-25.2,"Y":-26.5},{"nm":1547.070,"X":-26.6,"Y":-25.0},{"nm":1547.074,"X":-24.9,"Y":-26.2},
      {"nm":1547.078,"X":-26.0,"Y":-25.6},{"nm":1547.082,"X":-25.4,"Y":-26.8},{"nm":1547.086,"X":-26.9,"Y":-24.8},{"nm":1547.090,"X":-25.1,"Y":-25.9},
      {"nm":1547.094,"X":-26.3,"Y":-25.3},{"nm":1547.098,"X":-24.8,"Y":-26.6},{"nm":1547.102,"X":-26.5,"Y":-25.0},{"nm":1547.106,"X":-25.6,"Y":-24.6},
      {"nm":1547.110,"X":-24.7,"Y":-26.3},{"nm":1547.114,"X":-26.0,"Y":-25.4},{"nm":1547.118,"X":-25.3,"Y":-26.7},{"nm":1547.122,"X":-26.4,"Y":-25.1},
      {"nm":1547.126,"X":-24.9,"Y":-25.8},{"nm":1547.130,"X":-25.9,"Y":-24.4},{"nm":1547.134,"X":-24.6,"Y":-25.5},{"nm":1547.138,"X":-25.7,"Y":-24.8},
      {"nm":1547.142,"X":-24.4,"Y":-25.2},{"nm":1547.156,"X":-24.3,"Y":-25.3},{"nm":1547.160,"X":-25.6,"Y":-24.5},{"nm":1547.164,"X":-24.7,"Y":-25.9},
      {"nm":1547.168,"X":-26.1,"Y":-25.1},{"nm":1547.172,"X":-25.2,"Y":-24.6},{"nm":1547.176,"X":-24.6,"Y":-26.2},{"nm":1547.180,"X":-26.2,"Y":-25.4},
      {"nm":1547.184,"X":-25.5,"Y":-24.9},{"nm":1547.188,"X":-24.9,"Y":-26.5},{"nm":1547.192,"X":-26.4,"Y":-25.2},{"nm":1547.196,"X":-25.3,"Y":-26.1},
      {"nm":1547.200,"X":-26.8,"Y":-25.5},{"nm":1547.204,"X":-25.4,"Y":-26.9},{"nm":1547.208,"X":-26.2,"Y":-25.1},{"nm":1547.212,"X":-25.1,"Y":-26.3},
      {"nm":1547.216,"X":-26.6,"Y":-25.7},{"nm":1547.220,"X":-25.8,"Y":-26.9},{"nm":1547.224,"X":-26.9,"Y":-25.6},{"nm":1547.228,"X":-25.6,"Y":-26.5},
      {"nm":1547.232,"X":-26.3,"Y":-25.3},{"nm":1547.236,"X":-25.2,"Y":-26.7},{"nm":1547.240,"X":-26.7,"Y":-25.9},
      {"nm":1547.263,"X":-48.6,"Y":-48.0},{"nm":1547.267,"X":-48.2,"Y":-48.8},{"nm":1547.271,"X":-49.0,"Y":-48.6},{"nm":1547.275,"X":-48.5,"Y":-49.3},
      {"nm":1547.279,"X":-49.5,"Y":-48.7},{"nm":1547.283,"X":-49.0,"Y":-49.7},{"nm":1547.287,"X":-50.1,"Y":-49.2},{"nm":1547.291,"X":-49.5,"Y":-50.3},
      {"nm":1547.295,"X":-50.3,"Y":-49.9},{"nm":1547.299,"X":-49.6,"Y":-50.2},{"nm":1547.303,"X":-48.9,"Y":-49.5},{"nm":1547.307,"X":-49.3,"Y":-48.7},
      {"nm":1547.311,"X":-48.7,"Y":-49.3},{"nm":1547.315,"X":-49.5,"Y":-48.9},{"nm":1547.319,"X":-49.2,"Y":-49.9},{"nm":1547.323,"X":-50.1,"Y":-49.6},
      {"nm":1547.327,"X":-50.4,"Y":-50.6},{"nm":1547.331,"X":-50.8,"Y":-50.2},{"nm":1547.335,"X":-51.3,"Y":-51.0},{"nm":1547.3385,"X":-51.4,"Y":-50.9},
      {"nm":1547.3445,"X":-51.9,"Y":-52.4},{"nm":1547.3505,"X":-52.6,"Y":-52.1},{"nm":1547.3535,"X":-51.9,"Y":-52.6},{"nm":1547.3565,"X":-52.2,"Y":-51.6},
      {"nm":1547.3595,"X":-51.7,"Y":-52.0},{"nm":1547.3625,"X":-51.5,"Y":-51.1},{"nm":1547.366,"X":-50.9,"Y":-51.3},{"nm":1547.370,"X":-50.5,"Y":-50.1},
      {"nm":1547.374,"X":-49.7,"Y":-50.2},{"nm":1547.378,"X":-49.3,"Y":-49.6},{"nm":1547.382,"X":-49.5,"Y":-48.9},{"nm":1547.386,"X":-48.7,"Y":-49.2},
      {"nm":1547.390,"X":-49.0,"Y":-48.4},{"nm":1547.394,"X":-48.2,"Y":-48.7},{"nm":1547.398,"X":-48.6,"Y":-47.9},{"nm":1547.402,"X":-48.1,"Y":-48.7},
      {"nm":1547.406,"X":-48.8,"Y":-48.1},{"nm":1547.410,"X":-48.0,"Y":-48.6},{"nm":1547.414,"X":-48.7,"Y":-48.0},{"nm":1547.418,"X":-48.1,"Y":-48.8},
      {"nm":1547.422,"X":-48.5,"Y":-47.8},{"nm":1547.426,"X":-47.7,"Y":-48.3},{"nm":1547.433,"X":-47.7,"Y":-47.4},{"nm":1547.437,"X":-47.3,"Y":-47.8},
      {"nm":1547.462,"X":-26.0,"Y":-25.3},{"nm":1547.466,"X":-25.4,"Y":-26.6},{"nm":1547.470,"X":-26.3,"Y":-24.9},{"nm":1547.474,"X":-25.1,"Y":-26.1},
      {"nm":1547.478,"X":-26.4,"Y":-25.5},{"nm":1547.482,"X":-25.5,"Y":-24.7},{"nm":1547.486,"X":-24.8,"Y":-26.2},{"nm":1547.490,"X":-26.1,"Y":-25.2},
      {"nm":1547.494,"X":-25.4,"Y":-26.5},{"nm":1547.498,"X":-26.6,"Y":-24.9},{"nm":1547.502,"X":-25.2,"Y":-25.8},{"nm":1547.506,"X":-24.6,"Y":-26.3},
      {"nm":1547.510,"X":-26.2,"Y":-25.0},{"nm":1547.514,"X":-25.0,"Y":-25.9},{"nm":1547.518,"X":-25.9,"Y":-24.6},{"nm":1547.522,"X":-25.3,"Y":-26.0},
      {"nm":1547.526,"X":-24.5,"Y":-25.2},{"nm":1547.530,"X":-25.9,"Y":-24.8},{"nm":1547.534,"X":-24.7,"Y":-25.8},{"nm":1547.538,"X":-25.5,"Y":-24.5},
      {"nm":1547.542,"X":-24.3,"Y":-25.1},{"nm":1547.546,"X":-25.0,"Y":-24.2},{"nm":1547.559,"X":-24.8,"Y":-25.4},{"nm":1547.563,"X":-25.7,"Y":-24.5},
      {"nm":1547.567,"X":-24.4,"Y":-25.5},{"nm":1547.571,"X":-25.5,"Y":-24.6},{"nm":1547.575,"X":-24.7,"Y":-25.9},{"nm":1547.579,"X":-25.9,"Y":-25.0},
      {"nm":1547.583,"X":-25.0,"Y":-24.4},{"nm":1547.587,"X":-24.6,"Y":-26.1},{"nm":1547.591,"X":-26.0,"Y":-25.1},{"nm":1547.595,"X":-25.1,"Y":-24.7},
      {"nm":1547.599,"X":-24.7,"Y":-26.0},{"nm":1547.603,"X":-26.1,"Y":-25.3},{"nm":1547.607,"X":-25.3,"Y":-26.6},{"nm":1547.611,"X":-26.5,"Y":-25.0},
      {"nm":1547.615,"X":-25.0,"Y":-26.2},{"nm":1547.619,"X":-26.0,"Y":-25.3},{"nm":1547.623,"X":-25.6,"Y":-26.7},{"nm":1547.627,"X":-26.8,"Y":-25.4},
      {"nm":1547.631,"X":-25.4,"Y":-26.3},{"nm":1547.635,"X":-26.2,"Y":-25.1},{"nm":1547.639,"X":-25.3,"Y":-26.6},{"nm":1547.643,"X":-26.6,"Y":-25.6},
      {"nm":1547.664,"X":-48.4,"Y":-47.9},{"nm":1547.668,"X":-47.9,"Y":-48.6},{"nm":1547.672,"X":-48.8,"Y":-48.2},{"nm":1547.676,"X":-48.3,"Y":-49.1},
      {"nm":1547.680,"X":-49.2,"Y":-48.4},{"nm":1547.684,"X":-48.6,"Y":-49.4},{"nm":1547.688,"X":-49.5,"Y":-48.8},{"nm":1547.692,"X":-48.9,"Y":-49.5},
      {"nm":1547.696,"X":-49.4,"Y":-48.9},{"nm":1547.700,"X":-48.8,"Y":-49.6},{"nm":1547.704,"X":-49.7,"Y":-49.1},{"nm":1547.708,"X":-49.3,"Y":-50.1},
      {"nm":1547.712,"X":-50.4,"Y":-49.7},{"nm":1547.716,"X":-49.9,"Y":-50.6},{"nm":1547.720,"X":-50.8,"Y":-50.2},{"nm":1547.724,"X":-50.4,"Y":-51.2},
      {"nm":1547.728,"X":-51.2,"Y":-50.6},{"nm":1547.732,"X":-50.7,"Y":-51.5},{"nm":1547.7355,"X":-51.5,"Y":-51.1},{"nm":1547.7385,"X":-51.7,"Y":-51.9},
      {"nm":1547.7415,"X":-51.4,"Y":-52.1},{"nm":1547.7445,"X":-52.1,"Y":-51.6},{"nm":1547.7475,"X":-51.2,"Y":-51.8},{"nm":1547.7505,"X":-51.0,"Y":-50.7},
      {"nm":1547.754,"X":-50.3,"Y":-50.8},{"nm":1547.758,"X":-49.9,"Y":-49.6},{"nm":1547.762,"X":-49.2,"Y":-49.7},{"nm":1547.766,"X":-48.8,"Y":-49.1},
      {"nm":1547.770,"X":-48.9,"Y":-48.4},{"nm":1547.774,"X":-48.2,"Y":-48.7},{"nm":1547.778,"X":-48.5,"Y":-47.9},{"nm":1547.782,"X":-47.8,"Y":-48.3},
      {"nm":1547.786,"X":-48.2,"Y":-47.6},{"nm":1547.790,"X":-47.7,"Y":-48.4},{"nm":1547.794,"X":-48.4,"Y":-47.8},{"nm":1547.798,"X":-47.6,"Y":-48.2},
      {"nm":1547.802,"X":-48.2,"Y":-47.5},{"nm":1547.806,"X":-47.7,"Y":-48.3},{"nm":1547.810,"X":-47.4,"Y":-47.6},{"nm":1547.8135,"X":-47.8,"Y":-47.2},
      {"nm":1547.8165,"X":-47.1,"Y":-47.7},{"nm":1547.820,"X":-47.5,"Y":-47.0},
      {"nm":1547.848,"X":-25.4,"Y":-26.2},{"nm":1547.852,"X":-26.3,"Y":-25.0},{"nm":1547.856,"X":-25.0,"Y":-26.0},{"nm":1547.860,"X":-26.5,"Y":-25.3},
      {"nm":1547.864,"X":-25.4,"Y":-24.7},{"nm":1547.868,"X":-25.7,"Y":-26.5},{"nm":1547.872,"X":-24.9,"Y":-25.5},{"nm":1547.876,"X":-26.2,"Y":-24.9},
      {"nm":1547.880,"X":-25.3,"Y":-26.7},{"nm":1547.884,"X":-24.7,"Y":-25.2},{"nm":1547.888,"X":-26.3,"Y":-25.8},{"nm":1547.892,"X":-25.2,"Y":-24.6},
      {"nm":1547.896,"X":-26.6,"Y":-25.7},{"nm":1547.900,"X":-24.9,"Y":-26.3},{"nm":1547.904,"X":-25.7,"Y":-25.0},{"nm":1547.908,"X":-25.1,"Y":-24.6},
      {"nm":1547.912,"X":-26.2,"Y":-25.8},{"nm":1547.916,"X":-24.6,"Y":-25.3},{"nm":1547.920,"X":-25.6,"Y":-24.9},{"nm":1547.924,"X":-24.8,"Y":-25.6},
      {"nm":1547.928,"X":-25.1,"Y":-24.5},{"nm":1547.932,"X":-24.4,"Y":-25.2},{"nm":1547.936,"X":-24.9,"Y":-24.1},{"nm":1547.949,"X":-24.9,"Y":-24.3},
      {"nm":1547.953,"X":-24.5,"Y":-25.4},{"nm":1547.957,"X":-25.5,"Y":-24.6},{"nm":1547.961,"X":-24.8,"Y":-25.7},{"nm":1547.965,"X":-25.6,"Y":-24.9},
      {"nm":1547.969,"X":-24.6,"Y":-25.8},{"nm":1547.973,"X":-25.9,"Y":-25.0},{"nm":1547.977,"X":-25.1,"Y":-24.6},{"nm":1547.981,"X":-24.6,"Y":-25.9},
      {"nm":1547.985,"X":-26.2,"Y":-25.2},{"nm":1547.989,"X":-25.3,"Y":-24.8},{"nm":1547.993,"X":-24.9,"Y":-26.2},{"nm":1547.997,"X":-26.0,"Y":-25.1},
      {"nm":1548.001,"X":-25.2,"Y":-26.5},{"nm":1548.005,"X":-26.4,"Y":-25.3},{"nm":1548.009,"X":-25.4,"Y":-24.8},{"nm":1548.013,"X":-24.8,"Y":-26.0},
      {"nm":1548.017,"X":-26.1,"Y":-25.4},{"nm":1548.021,"X":-25.3,"Y":-24.9},{"nm":1548.025,"X":-24.9,"Y":-25.8},
      {"nm":1548.049,"X":-48.0,"Y":-48.4},{"nm":1548.053,"X":-48.6,"Y":-47.9},{"nm":1548.057,"X":-48.2,"Y":-48.9},{"nm":1548.061,"X":-49.1,"Y":-48.4},
      {"nm":1548.065,"X":-48.7,"Y":-49.4},{"nm":1548.069,"X":-49.6,"Y":-48.9},{"nm":1548.073,"X":-49.1,"Y":-49.8},{"nm":1548.077,"X":-49.9,"Y":-49.3},
      {"nm":1548.081,"X":-49.0,"Y":-49.6},{"nm":1548.085,"X":-49.2,"Y":-48.8},{"nm":1548.089,"X":-48.8,"Y":-49.5},{"nm":1548.093,"X":-49.6,"Y":-49.0},
      {"nm":1548.097,"X":-49.2,"Y":-49.9},{"nm":1548.101,"X":-50.0,"Y":-49.4},{"nm":1548.105,"X":-49.6,"Y":-50.3},{"nm":1548.109,"X":-50.5,"Y":-49.9},
      {"nm":1548.113,"X":-50.2,"Y":-50.8},{"nm":1548.117,"X":-50.9,"Y":-50.3},{"nm":1548.1205,"X":-50.6,"Y":-51.2},{"nm":1548.1235,"X":-51.2,"Y":-50.7},
      {"nm":1548.1265,"X":-51.4,"Y":-51.8},{"nm":1548.1295,"X":-51.9,"Y":-51.4},{"nm":1548.1325,"X":-51.6,"Y":-52.3},{"nm":1548.1355,"X":-52.5,"Y":-51.9},
      {"nm":1548.1385,"X":-52.0,"Y":-52.6},{"nm":1548.1415,"X":-52.2,"Y":-51.5},{"nm":1548.1445,"X":-51.8,"Y":-52.3},{"nm":1548.1475,"X":-51.7,"Y":-52.1},
      {"nm":1548.1505,"X":-51.8,"Y":-51.3},{"nm":1548.1535,"X":-51.2,"Y":-51.6},{"nm":1548.157,"X":-50.8,"Y":-50.5},{"nm":1548.161,"X":-50.1,"Y":-50.6},
      {"nm":1548.165,"X":-49.6,"Y":-50.0},{"nm":1548.169,"X":-49.3,"Y":-49.0},{"nm":1548.173,"X":-48.8,"Y":-49.3},{"nm":1548.177,"X":-48.9,"Y":-48.4},
      {"nm":1548.181,"X":-48.2,"Y":-48.8},{"nm":1548.185,"X":-48.5,"Y":-47.9},{"nm":1548.189,"X":-47.8,"Y":-48.3},{"nm":1548.193,"X":-48.1,"Y":-47.5},
      {"nm":1548.197,"X":-47.5,"Y":-48.0},{"nm":1548.201,"X":-47.9,"Y":-47.3},{"nm":1548.205,"X":-47.2,"Y":-47.8},{"nm":1548.209,"X":-47.7,"Y":-47.1},
      {"nm":1548.213,"X":-47.0,"Y":-47.5},{"nm":1548.217,"X":-47.5,"Y":-46.9},{"nm":1548.221,"X":-46.8,"Y":-47.3},{"nm":1548.228,"X":-47.1,"Y":-46.6},
      {"nm":1548.232,"X":-46.6,"Y":-47.1},
      {"nm":1548.255,"X":-24.8,"Y":-25.7},{"nm":1548.259,"X":-25.8,"Y":-24.4},{"nm":1548.263,"X":-24.4,"Y":-25.6},{"nm":1548.267,"X":-25.3,"Y":-24.9},
      {"nm":1548.271,"X":-24.6,"Y":-25.8},{"nm":1548.275,"X":-25.9,"Y":-24.3},{"nm":1548.279,"X":-24.5,"Y":-25.4},{"nm":1548.283,"X":-25.6,"Y":-24.7},
      {"nm":1548.287,"X":-24.2,"Y":-25.5},{"nm":1548.291,"X":-25.4,"Y":-24.3},{"nm":1548.295,"X":-24.9,"Y":-25.9},{"nm":1548.299,"X":-24.3,"Y":-24.6},
      {"nm":1548.303,"X":-25.5,"Y":-25.0},{"nm":1548.307,"X":-24.4,"Y":-24.7},{"nm":1548.311,"X":-25.1,"Y":-25.9},{"nm":1548.315,"X":-24.6,"Y":-24.3},
      {"nm":1548.319,"X":-25.0,"Y":-25.4},{"nm":1548.323,"X":-24.2,"Y":-24.8},{"nm":1548.327,"X":-24.8,"Y":-24.1},{"nm":1548.331,"X":-24.1,"Y":-24.7},
      {"nm":1548.335,"X":-24.6,"Y":-23.9},{"nm":1548.339,"X":-24.0,"Y":-24.4},{"nm":1548.353,"X":-24.5,"Y":-23.8},{"nm":1548.357,"X":-24.1,"Y":-24.9},
      {"nm":1548.361,"X":-24.9,"Y":-24.1},{"nm":1548.365,"X":-24.2,"Y":-25.2},{"nm":1548.369,"X":-25.0,"Y":-24.4},{"nm":1548.373,"X":-24.4,"Y":-25.4},
      {"nm":1548.377,"X":-25.3,"Y":-24.6},{"nm":1548.381,"X":-24.7,"Y":-25.1},{"nm":1548.385,"X":-25.1,"Y":-24.3},{"nm":1548.389,"X":-24.3,"Y":-25.5},
      {"nm":1548.393,"X":-25.4,"Y":-24.6},{"nm":1548.397,"X":-24.6,"Y":-25.7},{"nm":1548.401,"X":-25.7,"Y":-24.7},{"nm":1548.405,"X":-24.8,"Y":-25.3},
      {"nm":1548.409,"X":-25.2,"Y":-24.5},{"nm":1548.413,"X":-24.5,"Y":-25.7},{"nm":1548.417,"X":-25.8,"Y":-24.8},{"nm":1548.421,"X":-24.9,"Y":-25.6},
      {"nm":1548.425,"X":-25.6,"Y":-24.7},{"nm":1548.429,"X":-24.7,"Y":-25.8},{"nm":1548.433,"X":-25.9,"Y":-25.0},{"nm":1548.437,"X":-25.0,"Y":-25.6},
      {"nm":1548.463,"X":-48.1,"Y":-47.7},{"nm":1548.467,"X":-47.8,"Y":-48.5},{"nm":1548.471,"X":-48.4,"Y":-47.8},{"nm":1548.475,"X":-48.6,"Y":-48.4},
      {"nm":1548.479,"X":-48.1,"Y":-48.9},{"nm":1548.483,"X":-48.9,"Y":-48.4},{"nm":1548.487,"X":-48.4,"Y":-48.8},{"nm":1548.491,"X":-48.7,"Y":-48.2},
      {"nm":1548.495,"X":-48.2,"Y":-48.6},{"nm":1548.499,"X":-48.6,"Y":-48.0},{"nm":1548.5025,"X":-47.9,"Y":-48.4},{"nm":1548.506,"X":-47.8,"Y":-48.3},
      {"nm":1548.510,"X":-48.5,"Y":-48.1},{"nm":1548.514,"X":-49.0,"Y":-48.8},{"nm":1548.518,"X":-49.5,"Y":-49.6},{"nm":1548.522,"X":-50.1,"Y":-49.7},
      {"nm":1548.526,"X":-50.4,"Y":-50.7},{"nm":1548.530,"X":-51.1,"Y":-50.6},{"nm":1548.537,"X":-51.6,"Y":-51.3},{"nm":1548.541,"X":-52.2,"Y":-52.5},
      {"nm":1548.545,"X":-52.8,"Y":-52.5},{"nm":1548.549,"X":-53.2,"Y":-52.9},{"nm":1548.553,"X":-53.4,"Y":-53.7},{"nm":1548.557,"X":-53.9,"Y":-53.6},
      {"nm":1548.561,"X":-54.0,"Y":-54.3},{"nm":1548.565,"X":-54.4,"Y":-54.1},{"nm":1548.569,"X":-54.3,"Y":-54.7},{"nm":1548.573,"X":-54.7,"Y":-54.4},
      {"nm":1548.5775,"X":-54.6,"Y":-55.0},{"nm":1548.5825,"X":-55.0,"Y":-54.7},{"nm":1548.5875,"X":-54.8,"Y":-55.3},{"nm":1548.5925,"X":-55.3,"Y":-55.0},
      {"nm":1548.5975,"X":-55.1,"Y":-55.5},{"nm":1548.6025,"X":-55.5,"Y":-55.2},{"nm":1548.6075,"X":-55.3,"Y":-55.7},{"nm":1548.6125,"X":-55.7,"Y":-55.2},
      {"nm":1548.6175,"X":-55.4,"Y":-55.9},{"nm":1548.6225,"X":-55.9,"Y":-55.5},{"nm":1548.6275,"X":-55.5,"Y":-56.1},{"nm":1548.6325,"X":-56.0,"Y":-55.6},
      {"nm":1548.6375,"X":-55.6,"Y":-56.2},{"nm":1548.6425,"X":-56.2,"Y":-55.7},
      {"nm":1548.6475,"X":-56.0,"Y":-55.6},{"nm":1548.6525,"X":-55.7,"Y":-56.4},{"nm":1548.6575,"X":-56.4,"Y":-55.8},{"nm":1548.6625,"X":-55.6,"Y":-56.2},
      {"nm":1548.6675,"X":-56.2,"Y":-55.6},{"nm":1548.6725,"X":-55.8,"Y":-56.5},{"nm":1548.6775,"X":-56.6,"Y":-55.9},{"nm":1548.6825,"X":-55.5,"Y":-56.0},
      {"nm":1548.6875,"X":-56.3,"Y":-55.5},{"nm":1548.6925,"X":-55.9,"Y":-56.6},{"nm":1548.6975,"X":-56.5,"Y":-55.8},{"nm":1548.7025,"X":-55.7,"Y":-56.3},
      {"nm":1548.7075,"X":-56.1,"Y":-55.6},{"nm":1548.7125,"X":-55.5,"Y":-56.4},{"nm":1548.7175,"X":-56.4,"Y":-55.9},{"nm":1548.7225,"X":-55.8,"Y":-56.2},
      {"nm":1548.7275,"X":-56.2,"Y":-55.6},{"nm":1548.7325,"X":-55.6,"Y":-56.5},{"nm":1548.7375,"X":-56.5,"Y":-55.7},{"nm":1548.7425,"X":-55.9,"Y":-56.3},
      {"nm":1548.7475,"X":-56.3,"Y":-55.8},{"nm":1548.7525,"X":-55.6,"Y":-56.1},{"nm":1548.7575,"X":-56.1,"Y":-55.5},{"nm":1548.7625,"X":-55.5,"Y":-56.4},
      {"nm":1548.7675,"X":-56.4,"Y":-55.7},{"nm":1548.7725,"X":-55.8,"Y":-56.2},{"nm":1548.7775,"X":-56.2,"Y":-55.9},{"nm":1548.7825,"X":-55.6,"Y":-56.5},
      {"nm":1548.7875,"X":-56.5,"Y":-55.8},{"nm":1548.7925,"X":-55.9,"Y":-56.1},{"nm":1548.7975,"X":-56.3,"Y":-55.6},{"nm":1548.8025,"X":-55.7,"Y":-56.3},
      {"nm":1548.8075,"X":-56.0,"Y":-55.9},{"nm":1548.8125,"X":-55.6,"Y":-56.4},{"nm":1548.8175,"X":-56.4,"Y":-55.7},{"nm":1548.8225,"X":-55.8,"Y":-56.2},
      {"nm":1548.8275,"X":-56.2,"Y":-55.6},{"nm":1548.8325,"X":-55.6,"Y":-56.4},{"nm":1548.8375,"X":-56.1,"Y":-55.8},{"nm":1548.8425,"X":-55.8,"Y":-56.2},
      {"nm":1548.8475,"X":-56.3,"Y":-55.7},{"nm":1548.8525,"X":-55.7,"Y":-56.1}
    ]
  },
  "transform": [{"fold": ["X", "Y"], "as": ["pol", "dBm"]}],
  "mark": {"type": "line", "strokeWidth": 1.2, "clip": true},
  "encoding": {
    "x": {
      "field": "nm",
      "type": "quantitative",
      "scale": {"domain": [1546.35, 1548.853], "nice": false, "zero": false},
      "axis": {
        "values": [1546.35, 1546.55, 1546.75, 1546.95, 1547.15, 1547.35, 1547.55, 1547.75, 1547.95, 1548.15, 1548.35, 1548.55, 1548.75],
        "labelExpr": "(round((datum.value - 1546.35) * 10) % 4 == 0 && datum.value < 1548.7) ? replace(format(datum.value, '.2f'), '.', ',') : ''",
        "tickSize": {"condition": {"test": "round((datum.value - 1546.35) * 10) % 4 == 0", "value": 10}, "value": 0},
        "tickColor": "#1a1a1a",
        "tickWidth": 1.3,
        "grid": true,
        "gridDash": [5, 3],
        "gridColor": "#555555",
        "gridWidth": 1,
        "gridOpacity": {"condition": {"test": "datum.value < 1546.4", "value": 0}, "value": 1},
        "domain": false,
        "labelFont": "Liberation Sans",
        "labelFontSize": 20,
        "labelColor": "#1a1a1a",
        "labelPadding": 16,
        "labelFlush": false,
        "labelBound": false,
        "labelOverlap": false,
        "title": "λ (nm)",
        "titleFont": "Liberation Sans",
        "titleFontSize": 22,
        "titleFontWeight": "normal",
        "titleColor": "#1a1a1a",
        "titleAlign": "right",
        "titleAnchor": null,
        "titleX": 1000,
        "titleY": 34,
        "titleBaseline": "middle"
      }
    },
    "y": {
      "field": "dBm",
      "type": "quantitative",
      "scale": {"domain": [-57, -11], "nice": false, "zero": false},
      "axis": {
        "values": [-57, -56, -55, -54, -53, -52, -51, -50, -49, -48, -47, -46, -45, -44, -43, -42, -41, -40, -39, -38, -37, -36, -35, -34, -33, -32, -31, -30, -29, -28, -27, -26, -25, -24, -23, -22, -21, -20, -19, -18, -17, -16, -15, -14, -13, -12],
        "labelExpr": "(datum.value + 57) % 5 == 0 ? ('' + datum.value) : ''",
        "tickSize": {"condition": {"test": "(datum.value + 57) % 5 == 0", "value": 9}, "value": -5},
        "tickColor": "#1a1a1a",
        "tickWidth": 1.2,
        "grid": true,
        "gridDash": [5, 3],
        "gridColor": "#555555",
        "gridWidth": 1,
        "gridOpacity": {"condition": {"test": "(datum.value + 57) % 5 == 0 && datum.value > -57", "value": 1}, "value": 0},
        "domain": false,
        "labelFont": "Liberation Sans",
        "labelFontSize": 21,
        "labelColor": "#1a1a1a",
        "labelPadding": 7,
        "labelOverlap": false,
        "labelBound": false,
        "labelFlush": false,
        "title": "Power (dBm)",
        "titleFont": "Liberation Sans",
        "titleFontSize": 23,
        "titleFontWeight": "normal",
        "titleColor": "#1a1a1a",
        "titleAngle": 0,
        "titleAlign": "left",
        "titleAnchor": null,
        "titleX": -47,
        "titleY": -19,
        "titleBaseline": "alphabetic"
      }
    },
    "color": {
      "field": "pol",
      "type": "nominal",
      "scale": {"domain": ["X", "Y"], "range": ["#000000", "#F5A02C"]},
      "legend": {
        "title": null,
        "orient": "none",
        "legendX": 570,
        "legendY": -84,
        "direction": "horizontal",
        "symbolType": "stroke",
        "symbolSize": 13225,
        "symbolStrokeWidth": 1.2,
        "labelFont": "Liberation Sans",
        "labelFontSize": 23,
        "labelOffset": 20,
        "columnPadding": 22,
        "padding": 0,
        "labelExpr": "'Pol-' + datum.label",
        "encode": {"labels": {"update": {"fill": {"signal": "datum.value == 'Y' ? '#F5A02C' : '#1a1a1a'"}}}}
      }
    },
    "strokeDash": {
      "field": "pol",
      "type": "nominal",
      "scale": {"domain": ["X", "Y"], "range": [[1, 0], [4, 2]]},
      "legend": {
        "title": null,
        "orient": "none",
        "legendX": 570,
        "legendY": -84,
        "direction": "horizontal",
        "symbolType": "stroke",
        "symbolSize": 13225,
        "symbolStrokeWidth": 1.2,
        "labelFont": "Liberation Sans",
        "labelFontSize": 23,
        "labelOffset": 20,
        "columnPadding": 22,
        "padding": 0,
        "labelExpr": "'Pol-' + datum.label",
        "encode": {"labels": {"update": {"fill": {"signal": "datum.value == 'Y' ? '#F5A02C' : '#1a1a1a'"}}}}
      }
    }
  }
}
